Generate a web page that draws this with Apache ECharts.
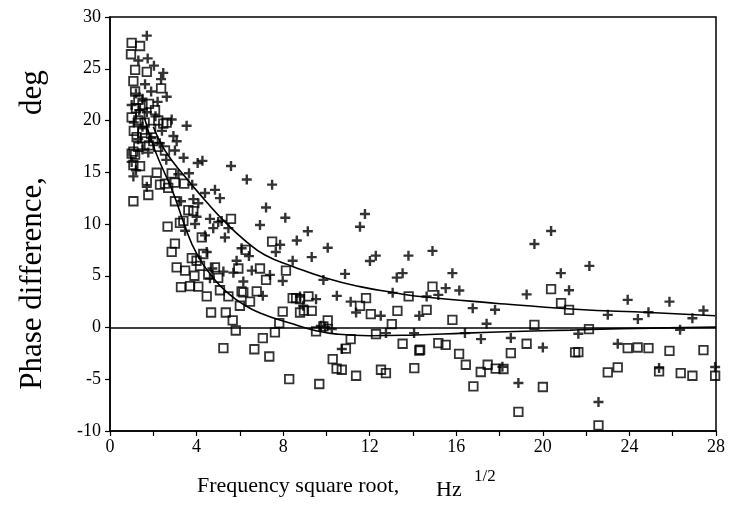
<!DOCTYPE html>
<html>
<head>
<meta charset="utf-8">
<script src="https://cdn.jsdelivr.net/npm/echarts@6/dist/echarts.min.js"></script>
<style>html,body{margin:0;padding:0;background:#fff}#c{width:730px;height:518px}</style>
</head>
<body>
<div id="c"></div>
<script>
// ---- data ----
const xTickLabels = [0, 4, 8, 12, 16, 20, 24, 28];
const yTickLabels = [-10, -5, 0, 5, 10, 15, 20, 25, 30];

const plusPoints = [
  [1.70,28.2],[1.31,25.8],[1.74,26.0],[2.03,25.3],[2.46,24.6],[2.36,24.0],[1.62,23.5],[2.62,22.3],
  [1.2,22.6],[1.5,22.1],[1.9,22.8],[2.2,21.8],[1.0,21.5],[1.35,21.0],[1.7,20.8],[2.1,20.4],
  [2.85,20.1],[3.54,19.5],[1.1,19.8],[1.5,19.4],[2.4,19.0],[2.93,18.5],[3.08,18.0],[1.3,18.2],
  [1.9,18.3],[3.0,17.1],[2.3,17.8],[1.5,17.2],[1.77,16.9],[1.0,16.0],[2.6,16.2],[1.2,15.2],
  [3.4,16.4],[4.05,15.9],[4.27,16.1],[5.59,15.6],[6.32,14.3],[1.08,14.6],[1.70,13.6],
  [3.16,14.8],[3.65,14.9],[3.80,13.8],[4.39,13.0],[4.85,13.3],[5.08,12.5],[3.28,12.2],[3.85,12.4],
  [4.08,12.0],[4.62,10.5],[5.0,10.2],[5.16,10.3],[5.47,9.6],[4.77,9.6],[4.0,10.7],[3.93,10.0],
  [3.47,9.35],[5.31,8.7],[4.39,8.9],[6.93,9.9],[6.08,7.65],[6.42,6.9],[4.47,7.3],[5.85,6.45],
  [5.24,5.4],[5.70,5.3],[6.55,5.5],[6.16,4.45],[4.73,5.7],[4.62,4.75],
  [7.49,13.8],[7.21,11.6],[8.1,10.6],[9.14,9.3],[8.63,8.4],[7.86,8.0],[7.66,7.3],[8.44,6.45],
  [9.32,6.8],[10.06,7.7],[11.78,10.96],[11.55,9.74],[12.28,6.94],[12.01,6.43],[13.79,6.94],
  [13.52,5.25],[13.25,4.82],[10.86,5.18],[9.86,4.6],[7.39,5.08],[7.98,4.5],[13.06,3.35],
  [14.9,7.4],[15.82,5.25],[15.51,3.8],[16.14,3.57],[19.61,8.07],[20.38,9.32],[20.83,5.25],
  [21.21,3.6],[19.25,3.2],[22.15,5.95],
  [7.06,3.06],[8.78,3.0],[8.93,2.1],[9.52,2.74],[10.48,3.06],[11.12,2.5],[11.37,1.45],[12.51,1.13],
  [14.29,1.13],[9.74,0.16],[9.94,0.04],[10.25,-0.15],[10.71,-2.08],[12.75,-0.54],[14.05,-0.54],
  [14.63,3.0],[15.17,3.15],[16.76,1.87],[17.79,1.71],[17.4,0.36],[16.4,-0.54],[17.14,-1.12],
  [18.52,-1.02],[20.0,-1.93],[18.87,-5.36],[18.13,-3.8],
  [23.92,2.67],[25.85,2.5],[27.42,1.64],[23.0,1.22],[24.39,0.81],[24.88,1.48],[26.91,0.9],
  [21.64,-0.61],[26.34,-0.22],[23.46,-1.57],[22.57,-7.2],[25.37,-3.92],[27.96,-3.82]
];

const squarePoints = [
  [1.0,27.5],[1.39,27.2],[0.97,26.4],[1.16,24.9],[1.70,24.7],[1.08,23.8],[2.36,23.1],[1.16,22.8],
  [1.31,22.0],[1.5,21.5],[1.2,21.2],[1.8,21.6],[2.08,21.0],[1.4,20.6],[1.0,20.3],[1.31,20.0],
  [1.6,19.8],[2.23,20.0],[2.46,19.7],[2.62,19.8],[1.9,19.2],[1.1,19.0],[1.5,18.8],[1.23,18.4],
  [1.62,18.3],[2.0,18.0],[1.31,17.45],[2.23,17.45],[2.54,17.1],[1.08,17.0],[1.8,17.6],[1.0,16.8],
  [1.16,16.7],
  [1.08,15.7],[1.39,15.6],[2.16,14.95],[1.70,14.2],[2.31,13.8],[2.54,13.9],[2.85,14.9],[3.0,14.0],
  [3.43,13.9],[1.77,12.8],[1.08,12.2],[2.69,13.5],[3.0,12.2],[3.62,11.35],[3.85,11.25],[3.23,10.1],
  [3.39,10.3],[2.66,9.75],[5.59,10.5],[4.24,8.7],[3.0,8.1],[2.85,7.3],[4.31,7.1],[3.78,6.7],
  [4.0,6.45],[4.16,5.95],[3.08,5.8],[3.47,5.5],[3.90,5.0],[4.85,5.8],[4.54,5.1],[5.0,4.8],
  [5.93,5.7],[6.27,7.5],[6.93,5.7],[3.28,3.9],[3.70,4.0],[4.08,3.95],[5.08,3.6],[6.08,3.5],[6.78,3.5],
  [4.47,3.0],[5.47,3.0],[6.16,3.4],[6.47,2.5],[6.0,2.1],[4.67,1.45],[5.35,1.45],[5.67,0.68],
  [5.81,-0.29],[5.24,-2.0],[6.67,-2.1],[7.06,-1.02],
  [7.36,-2.8],[7.62,-0.48],[7.82,0.42],[7.98,1.54],[8.28,-4.98],[8.44,2.83],[8.6,2.83],[8.78,2.74],
  [9.17,3.0],[8.78,1.45],[8.96,1.64],[9.32,1.61],[9.52,-0.38],[9.67,-5.46],[9.86,0.1],[10.06,0.68],
  [10.29,-3.05],[10.47,-3.98],[10.71,-4.08],[10.9,-2.05],[11.12,-1.12],[11.37,-4.66],[11.55,2.09],
  [11.83,2.83],[12.05,1.29],[12.29,-0.64],[12.52,-4.08],[12.75,-4.4],[13.02,0.33],[13.28,1.61],
  [13.52,-1.57],[13.8,3.0],[14.06,-3.92],[14.29,-2.22],
  [7.49,8.3],[8.13,5.5],[7.21,4.6],[14.9,3.95],[20.38,3.7],
  [14.63,1.71],[15.82,0.74],[14.33,-2.15],[15.17,-1.5],[15.51,-1.67],[16.13,-2.54],[16.44,-3.6],
  [17.13,-4.3],[17.45,-3.6],[17.82,-3.98],[18.18,-4.01],[16.79,-5.69],[18.52,-2.47],[19.25,-1.57],
  [19.61,0.26],[18.87,-8.16],[20.0,-5.75],[20.84,2.35],[21.21,1.71],[21.49,-2.41],
  [22.13,-0.16],[21.64,-2.37],[23.0,-4.34],[23.46,-3.86],[23.92,-1.99],[24.38,-1.93],[24.88,-1.99],
  [25.85,-2.25],[27.42,-2.18],[25.37,-4.24],[26.37,-4.4],[26.91,-4.66],[27.96,-4.66],[22.57,-9.45]
];

const upperCurve = [
  [2.0,19.4],[2.54,17.1],[3.47,14.56],[4.39,12.3],[5.31,10.2],[6.24,8.4],[7.16,7.0],[8.47,5.88],
  [10.01,4.76],[11.55,3.95],[13.1,3.38],[14.09,3.05],[17.8,2.35],[21.5,1.77],[24.95,1.45],[27.96,1.13]
];

const lowerCurve = [
  [1.6,20.2],[2.08,17.1],[2.93,12.96],[3.47,9.74],[4.0,7.17],[4.85,4.6],[5.55,3.15],[6.0,2.45],
  [6.93,1.39],[8.47,0.33],[9.47,-0.29],[10.48,-0.64],[12.0,-0.80],[14.09,-0.72],[16.4,-0.54],
  [18.7,-0.38],[21.26,-0.25],[22.2,-0.18],[25.0,-0.06],[28.0,0.04]
];

const zeroLine = 0;

// ---- chart ----
const font = 'Liberation Serif';
const chart = echarts.init(document.getElementById('c'), null, {renderer: 'canvas'});
const plusPath = 'path://M3.8,0H6.2V3.8H10V6.2H6.2V10H3.8V6.2H0V3.8H3.8Z';

chart.setOption({
  animation: false,
  backgroundColor: '#fff',
  grid: {left: 110, right: 14, top: 17, bottom: 87, show: true, borderColor: '#000', borderWidth: 1.5, backgroundColor: 'transparent'},
  xAxis: {
    type: 'value', min: xTickLabels[0], max: xTickLabels[xTickLabels.length - 1], interval: 4,
    axisLine: {show: true, onZero: false, lineStyle: {color: '#000', width: 1.5}},
    axisTick: {show: true, inside: false, length: 5, lineStyle: {color: '#000', width: 1.2}},
    minorTick: {show: true, splitNumber: 2, length: 5, lineStyle: {color: '#000', width: 1.2}},
    splitLine: {show: false},
    axisLabel: {color: '#000', fontFamily: font, fontSize: 18, margin: 7}
  },
  yAxis: {
    type: 'value', min: yTickLabels[0], max: yTickLabels[yTickLabels.length - 1], interval: 5,
    axisLine: {show: true, onZero: false, lineStyle: {color: '#000', width: 1.5}},
    axisTick: {show: true, inside: false, length: 5, lineStyle: {color: '#000', width: 1.2}},
    splitLine: {show: false},
    axisLabel: {color: '#000', fontFamily: font, fontSize: 18, margin: 9},
    name: 'Phase difference,        deg', nameLocation: 'middle', nameGap: 62, nameRotate: 90,
    nameTextStyle: {color: '#000', fontFamily: font, fontSize: 31, padding: [0, 12, 0, 0]}
  },
  graphic: [
    {type: 'text', left: 197, top: 475, style: {text: 'Frequency square root,', fill: '#000', font: '22px "Liberation Serif"'}},
    {type: 'text', left: 436, top: 479, style: {text: 'Hz', fill: '#000', font: '22px "Liberation Serif"'}},
    {type: 'text', left: 474, top: 468, style: {text: '1/2', fill: '#000', font: '17px "Liberation Serif"'}}
  ],
  series: [
    {
      type: 'line', data: upperCurve, smooth: true, symbol: 'none', silent: true,
      lineStyle: {color: '#000', width: 1.6}, z: 3
    },
    {
      type: 'line', data: lowerCurve, smooth: true, symbol: 'none', silent: true,
      lineStyle: {color: '#000', width: 1.6}, z: 3,
      markLine: {silent: true, symbol: 'none', label: {show: false},
        lineStyle: {color: '#000', type: 'solid', width: 1.6},
        data: [{yAxis: zeroLine}]}
    },
    {
      type: 'scatter', data: squarePoints, symbol: 'rect', symbolSize: 8.5,
      itemStyle: {color: 'rgba(0,0,0,0)', borderColor: '#000', borderWidth: 1.8}, z: 4
    },
    {
      type: 'scatter', data: plusPoints, symbol: plusPath, symbolSize: 10,
      itemStyle: {color: '#000'}, z: 5
    }
  ]
});
</script>
</body>
</html>
